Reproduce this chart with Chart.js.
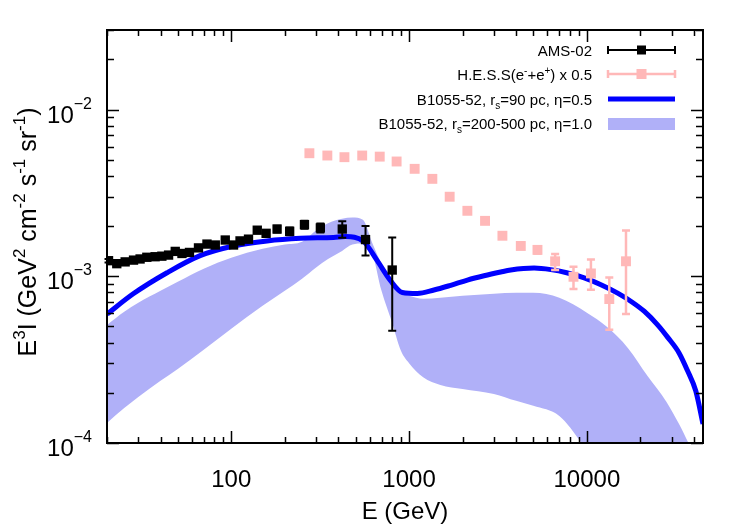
<!DOCTYPE html>
<html>
<head>
<meta charset="utf-8">
<script src="https://cdn.jsdelivr.net/npm/chart.js@4.4.0/dist/chart.umd.min.js"></script>
<style>
  html, body { margin: 0; padding: 0; background: #fff; }
  #wrap { width: 750px; height: 525px; }
</style>
</head>
<body>
<div id="wrap"><canvas id="myChart" width="750" height="525"></canvas></div>
<script>
/* global Chart */

// AMS-02 e- + e+ (E^3 flux)
const amsE = [20.4, 22.7, 25.3, 28.2, 30.7, 33.5, 37.3, 40.7, 44.4, 48.4, 52.8, 58.2, 65.4, 73.0,
  81.3, 92.5, 103, 112, 125, 140, 157, 181, 213, 258, 317, 421, 569, 804];
const amsFlux = [1.24e-3, 1.19e-3, 1.22e-3, 1.25e-3, 1.27e-3, 1.30e-3, 1.31e-3, 1.32e-3, 1.34e-3, 1.41e-3,
  1.37e-3, 1.39e-3, 1.48e-3, 1.56e-3, 1.54e-3, 1.65e-3, 1.54e-3, 1.63e-3, 1.67e-3, 1.89e-3,
  1.81e-3, 1.92e-3, 1.86e-3, 2.04e-3, 1.95e-3, 1.92e-3, 1.66e-3, 1.09e-3];
const amsLo = [1.21e-3, 1.16e-3, 1.19e-3, 1.22e-3, 1.24e-3, 1.27e-3, 1.28e-3, 1.29e-3, 1.31e-3, 1.37e-3,
  1.33e-3, 1.35e-3, 1.44e-3, 1.51e-3, 1.49e-3, 1.59e-3, 1.48e-3, 1.57e-3, 1.60e-3, 1.81e-3,
  1.73e-3, 1.83e-3, 1.76e-3, 1.93e-3, 1.83e-3, 1.70e-3, 1.33e-3, 4.71e-4];
const amsHi = [1.27e-3, 1.22e-3, 1.25e-3, 1.28e-3, 1.30e-3, 1.33e-3, 1.34e-3, 1.35e-3, 1.37e-3, 1.45e-3,
  1.41e-3, 1.43e-3, 1.52e-3, 1.61e-3, 1.59e-3, 1.71e-3, 1.60e-3, 1.69e-3, 1.74e-3, 1.97e-3,
  1.89e-3, 2.01e-3, 1.96e-3, 2.15e-3, 2.07e-3, 2.14e-3, 2.0e-3, 1.71e-3];

// H.E.S.S. (e- + e+) x 0.5
const hessE = [275, 347, 433, 545, 684, 851, 1075, 1352, 1692, 2128, 2675, 3350, 4250, 5275,
  6630, 8410, 10540, 13370, 16600];
const hessFlux = [5.47e-3, 5.30e-3, 5.18e-3, 5.30e-3, 5.22e-3, 4.88e-3, 4.41e-3, 3.84e-3, 3.00e-3, 2.47e-3,
  2.15e-3, 1.75e-3, 1.52e-3, 1.44e-3, 1.23e-3, 9.93e-4, 1.04e-3, 7.3e-4, 1.23e-3];
const hessLo = [5.35e-3, 5.18e-3, 5.06e-3, 5.18e-3, 5.10e-3, 4.76e-3, 4.30e-3, 3.74e-3, 2.92e-3, 2.40e-3,
  2.08e-3, 1.69e-3, 1.46e-3, 1.37e-3, 1.09e-3, 8.38e-4, 8.3e-4, 4.78e-4, 5.93e-4];
const hessHi = [5.59e-3, 5.42e-3, 5.30e-3, 5.42e-3, 5.34e-3, 5.00e-3, 4.52e-3, 3.94e-3, 3.08e-3, 2.54e-3,
  2.22e-3, 1.81e-3, 1.58e-3, 1.51e-3, 1.36e-3, 1.14e-3, 1.26e-3, 9.84e-4, 1.88e-3];

// B1055-52, rs = 90 pc, eta = 0.5
const lineE = [20, 28.1, 43.5, 66.8, 103, 159, 245, 376, 439, 554, 662, 787, 916, 1112, 1380, 1714,
  2128, 2640, 3275, 3730, 5050, 6270, 7700, 9660, 12000, 14900, 18000, 21000, 25000, 28500, 33000,
  36800, 41000, 45000];
const lineFlux = [5.93e-4, 7.85e-4, 1.05e-3, 1.33e-3, 1.52e-3, 1.63e-3, 1.69e-3, 1.71e-3, 1.73e-3, 1.62e-3,
  1.24e-3, 9.4e-4, 8.0e-4, 7.89e-4, 8.27e-4, 8.83e-4, 9.49e-4, 1.007e-3, 1.06e-3, 1.09e-3,
  1.12e-3, 1.096e-3, 1.05e-3, 9.78e-4, 8.9e-4, 7.92e-4, 6.99e-4, 6.17e-4, 5.11e-4, 4.30e-4, 3.47e-4,
  2.72e-4, 2.05e-4, 1.30e-4];

// B1055-52, rs = 200-500 pc, eta = 1.0 (band)
const bandE = [20, 25, 30, 40, 50, 70, 100, 150, 200, 250, 300, 350, 420, 480, 550, 620, 700, 800, 900,
  1000, 1200, 1500, 2000, 3000, 4000, 5000, 7000, 10000, 13000, 17000, 22000, 28000, 33000, 38000];
const bandHi = [5.11e-4, 6.12e-4, 6.93e-4, 8.18e-4, 9.27e-4, 1.11e-3, 1.29e-3, 1.46e-3, 1.55e-3, 1.61e-3,
  1.88e-3, 2.08e-3, 2.21e-3, 2.25e-3, 2.18e-3, 1.59e-3, 1.19e-3, 9.3e-4, 7.96e-4, 7.64e-4, 7.33e-4,
  7.43e-4, 7.64e-4, 7.85e-4, 7.96e-4, 7.96e-4, 7.43e-4, 6.05e-4, 4.96e-4, 3.72e-4, 2.51e-4,
  1.77e-4, 1.30e-4, 9.6e-5];
const bandLo = [1.32e-4, 1.62e-4, 1.89e-4, 2.36e-4, 2.78e-4, 3.62e-4, 4.84e-4, 6.65e-4, 8.18e-4, 9.66e-4,
  1.13e-3, 1.27e-3, 1.42e-3, 1.55e-3, 1.57e-3, 1.38e-3, 8.18e-4, 5.33e-4, 3.57e-4, 3.01e-4, 2.48e-4,
  2.23e-4, 2.11e-4, 1.97e-4, 1.79e-4, 1.67e-4, 1.45e-4, 9.0e-5, 6.0e-5, 4.0e-5, 3.0e-5,
  2.0e-5, 1.5e-5, 1.0e-5];

const xTicks = [100, 1000, 10000];
const yTicks = [1e-4, 1e-3, 1e-2];

const FONT = '"Liberation Sans", Arial, Helvetica, sans-serif';
const PINK = '#ffb8b8';
const BAND = '#b0b0f8';
const BLUE = '#0000ff';

function pts(xs, ys) {
  return xs.map((x, i) => ({ x: x, y: ys[i] }));
}

// text with sup (1) / sub (-1) pieces
function drawRich(ctx, parts, x, y, align, size, supSize, supShift, subShift) {
  const widths = parts.map(p => {
    ctx.font = (p[1] ? supSize : size) + 'px ' + FONT;
    return ctx.measureText(p[0]).width;
  });
  const total = widths.reduce((a, b) => a + b, 0);
  let cx = align === 'right' ? x - total : align === 'center' ? x - total / 2 : x;
  ctx.textAlign = 'left';
  ctx.textBaseline = 'alphabetic';
  parts.forEach((p, i) => {
    ctx.font = (p[1] ? supSize : size) + 'px ' + FONT;
    const dy = p[1] === 1 ? -supShift : p[1] === -1 ? subShift : 0;
    ctx.fillText(p[0], cx, y + dy);
    cx += widths[i];
  });
}

function errBars(chart, xs, lo, hi, color, width, cap) {
  const ctx = chart.ctx, sx = chart.scales.x, sy = chart.scales.y;
  ctx.save();
  ctx.strokeStyle = color;
  ctx.lineWidth = width;
  xs.forEach((e, i) => {
    const px = sx.getPixelForValue(e);
    const y1 = sy.getPixelForValue(lo[i]), y2 = sy.getPixelForValue(hi[i]);
    ctx.beginPath();
    ctx.moveTo(px, y1); ctx.lineTo(px, y2);
    ctx.moveTo(px - cap, y1); ctx.lineTo(px + cap, y1);
    ctx.moveTo(px - cap, y2); ctx.lineTo(px + cap, y2);
    ctx.stroke();
  });
  ctx.restore();
}

const errorBarPlugin = {
  id: 'errorBars',
  beforeDatasetDraw(chart, args) {
    if (args.index === 0) errBars(chart, amsE, amsLo, amsHi, '#000', 2, 4);
    if (args.index === 1) errBars(chart, hessE, hessLo, hessHi, PINK, 2.5, 4);
  }
};

const framePlugin = {
  id: 'frame',
  afterDraw(chart) {
    const ctx = chart.ctx, a = chart.chartArea;
    const sx = chart.scales.x, sy = chart.scales.y;
    ctx.save();
    ctx.strokeStyle = '#000';
    ctx.fillStyle = '#000';

    // ticks
    ctx.lineWidth = 1.5;
    ctx.beginPath();
    [10, 100, 1000, 10000].forEach(d => {
      for (let m = 1; m < 10; m++) {
        const v = d * m;
        if (v < sx.min || v > sx.max) continue;
        const px = Math.round(sx.getPixelForValue(v)) + 0.5;
        const len = m === 1 ? 12 : 6;
        ctx.moveTo(px, a.bottom); ctx.lineTo(px, a.bottom - len);
        ctx.moveTo(px, a.top); ctx.lineTo(px, a.top + len);
      }
    });
    [1e-4, 1e-3, 1e-2].forEach(d => {
      for (let m = 1; m < 10; m++) {
        const v = d * m;
        if (v < sy.min * 0.999 || v > sy.max * 1.001) continue;
        const py = Math.round(sy.getPixelForValue(v)) + 0.5;
        const len = m === 1 ? 12 : 7;
        ctx.moveTo(a.left, py); ctx.lineTo(a.left + len, py);
        ctx.moveTo(a.right, py); ctx.lineTo(a.right - len, py);
      }
    });
    ctx.stroke();

    ctx.lineWidth = 2;
    ctx.strokeRect(a.left, a.top, a.right - a.left, a.bottom - a.top);

    // tick labels
    ctx.font = '24px ' + FONT;
    ctx.textAlign = 'center';
    ctx.textBaseline = 'alphabetic';
    xTicks.forEach(v => {
      ctx.fillText(String(v), sx.getPixelForValue(v), 487);
    });
    yTicks.forEach(v => {
      const py = sy.getPixelForValue(v);
      const ex = Math.round(Math.log10(v));
      drawRich(ctx, [['10', 0], ['\u2212' + Math.abs(ex), 1]], 92, py + 13, 'right', 24, 16, 14, 0);
    });

    // axis titles
    ctx.font = '24px ' + FONT;
    ctx.textAlign = 'center';
    ctx.fillText('E (GeV)', (a.left + a.right) / 2, 519);

    ctx.save();
    ctx.translate(36, 232);
    ctx.rotate(-Math.PI / 2);
    drawRich(ctx, [['E', 0], ['3', 1], ['I (GeV', 0], ['2', 1], [' cm', 0], ['-2', 1], [' s', 0], ['-1', 1],
      [' sr', 0], ['-1', 1], [')', 0]], 0, 0, 'center', 25, 17, 11, 0);
    ctx.restore();

    // legend
    const tx = a.right - 111, s0 = a.right - 95, s1 = a.right - 28, sm = (s0 + s1) / 2;
    ctx.fillStyle = '#000';
    drawRich(ctx, [['AMS-02', 0]], tx, a.top + 26, 'right', 15, 10, 6, 4);
    drawRich(ctx, [['H.E.S.S(e', 0], ['-', 1], ['+e', 0], ['+', 1], [') x 0.5', 0]], tx, a.top + 50, 'right', 15, 10, 6, 4);
    drawRich(ctx, [['B1055-52, r', 0], ['s', -1], ['=90 pc, \u03b7=0.5', 0]], tx, a.top + 75, 'right', 15, 10, 6, 4);
    drawRich(ctx, [['B1055-52, r', 0], ['s', -1], ['=200-500 pc, \u03b7=1.0', 0]], tx, a.top + 99, 'right', 15, 10, 6, 4);

    const sym = (y, color, w, box) => {
      ctx.strokeStyle = color;
      ctx.lineWidth = w;
      ctx.beginPath();
      ctx.moveTo(s0, y); ctx.lineTo(s1, y);
      ctx.moveTo(s0, y - 4); ctx.lineTo(s0, y + 4);
      ctx.moveTo(s1, y - 4); ctx.lineTo(s1, y + 4);
      ctx.stroke();
      ctx.fillStyle = color;
      ctx.fillRect(sm - box / 2, y - box / 2, box, box);
    };
    sym(a.top + 20, '#000', 2, 9);
    sym(a.top + 44, PINK, 2.5, 10);
    ctx.strokeStyle = BLUE;
    ctx.lineWidth = 5;
    ctx.beginPath();
    ctx.moveTo(s0, a.top + 69); ctx.lineTo(s1, a.top + 69);
    ctx.stroke();
    ctx.fillStyle = BAND;
    ctx.fillRect(s0, a.top + 88, s1 - s0, 12);
    ctx.restore();
  }
};

const ctx = document.getElementById('myChart').getContext('2d');

const chart = new Chart(ctx, {
  type: 'line',
  data: {
    datasets: [{
      label: 'AMS-02',
      data: pts(amsE, amsFlux),
      showLine: false,
      pointStyle: 'rect',
      pointRadius: 6.6,
      pointBackgroundColor: '#000',
      pointBorderWidth: 0,
      order: 1
    },
    {
      label: 'H.E.S.S(e-+e+) x 0.5',
      data: pts(hessE, hessFlux),
      showLine: false,
      pointStyle: 'rect',
      pointRadius: 7,
      pointBackgroundColor: PINK,
      pointBorderWidth: 0,
      order: 2
    },
    {
      label: 'B1055-52, rs=90 pc',
      data: pts(lineE, lineFlux),
      borderColor: BLUE,
      borderWidth: 5,
      pointRadius: 0,
      cubicInterpolationMode: 'monotone',
      fill: false,
      order: 3
    },
    {
      label: 'B1055-52, rs=200-500 pc (upper)',
      data: pts(bandE, bandHi),
      borderWidth: 0,
      borderColor: 'rgba(0,0,0,0)',
      backgroundColor: BAND,
      pointRadius: 0,
      cubicInterpolationMode: 'monotone',
      fill: '+1',
      order: 4
    },
    {
      label: 'B1055-52, rs=200-500 pc (lower)',
      data: pts(bandE, bandLo),
      borderWidth: 0,
      borderColor: 'rgba(0,0,0,0)',
      pointRadius: 0,
      cubicInterpolationMode: 'monotone',
      fill: false,
      order: 5
    }]
  },
  options: {
    responsive: false,
    animation: false,
    layout: { padding: { top: 30, right: 47, left: 0, bottom: 0 } },
    scales: {
      x: {
        type: 'logarithmic',
        min: 20,
        max: 45000,
        grid: { display: false },
        border: { display: false },
        ticks: { display: false },
        afterFit(s) { s.height = 82; }
      },
      y: {
        type: 'logarithmic',
        min: 1e-4,
        max: 3e-2,
        grid: { display: false },
        border: { display: false },
        ticks: { display: false },
        afterFit(s) { s.width = 107; }
      }
    },
    plugins: {
      legend: { display: false },
      tooltip: { enabled: false }
    }
  },
  plugins: [errorBarPlugin, framePlugin]
});
</script>
</body>
</html>
